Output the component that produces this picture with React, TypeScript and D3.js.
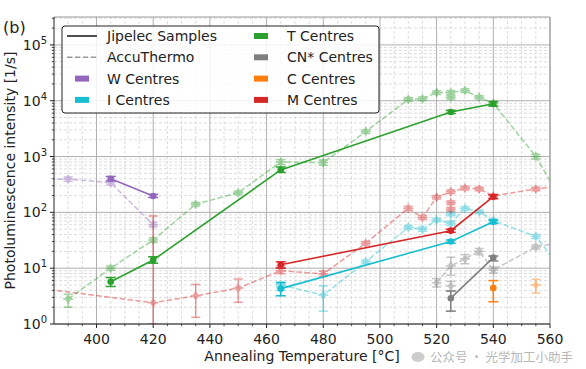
import React, { useEffect, useRef } from 'react';
import * as d3 from 'd3';

// [temperature, value, lower, upper]
type Pt = [number, number, number?, number?];

// Jipelec samples (solid)
const W_jip: Pt[] = [[405, 400, 365, 440], [420, 197, 185, 210]];
const T_jip: Pt[] = [[405, 5.7, 4.7, 6.8], [420, 14, 12.3, 16], [465, 575, 520, 650], [525, 6300, 5900, 6700], [540, 8800, 8000, 9600]];
const I_jip: Pt[] = [[465, 4.3, 3.2, 5.5], [525, 30, 28, 32], [540, 68, 63, 73]];
const M_jip: Pt[] = [[465, 11.5, 10, 13], [525, 47, 44, 50], [540, 191, 176, 206]];
const CN_jip: Pt[] = [[525, 2.9, 1.7, 3.9], [540, 15.5, 13.5, 16.5]];
const C_jip: Pt[] = [[540, 4.4, 2.5, 6.0]];

// AccuThermo samples (dashed)
const W_acc: Pt[] = [[375, 380], [390, 395, 360, 430], [405, 340, 310, 370], [420, 60, 55, 66]];
const T_acc: Pt[] = [[390, 2.8, 2.0, 3.4], [405, 10, 9.2, 11], [420, 32, 29, 35], [435, 140, 130, 150], [450, 225, 210, 240],
  [465, 800, 720, 880], [480, 780, 700, 860], [495, 2800, 2600, 3000], [510, 10600, 9800, 11400], [515, 10900, 10100, 11700],
  [520, 14000, 13000, 15000], [525, 14100, 13000, 15200], [530, 15200, 14100, 16300], [535, 11500, 10700, 12300],
  [540, 9000, 8300, 9700], [555, 1000, 900, 1100], [570, 50]];
const T_accExtra: Pt[] = [[525, 11500, 10700, 12300]];
const I_acc: Pt[] = [[465, 5.0, 4.4, 5.7], [480, 3.3, 1.7, 4.8], [495, 13, 12, 14], [510, 54, 50, 58], [515, 50, 46, 54],
  [520, 73, 68, 78], [525, 64, 59, 69], [530, 118, 110, 126], [535, 103, 96, 110], [540, 71, 66, 76], [555, 37, 34, 40], [570, 4]];
const I_accExtra: Pt[] = [[525, 94, 87, 101], [465, 4.6, 4.0, 5.2]];
const M_acc: Pt[] = [[375, 4.7], [420, 2.4, 1.0, 86], [435, 3.2, 1.32, 5.1], [450, 4.4, 2.45, 6.4], [465, 9.0, 8.0, 10.3],
  [480, 7.9, 7.1, 8.8], [495, 28, 26, 30], [510, 118, 108, 128], [515, 81, 75, 87], [520, 187, 174, 200], [525, 235, 218, 252],
  [530, 272, 252, 292], [535, 263, 244, 282], [540, 197, 183, 211], [555, 263, 244, 282], [570, 330]];
const M_accExtra: Pt[] = [[525, 149, 138, 160], [525, 114, 106, 122], [465, 10, 9, 11]];
const CN_acc: Pt[] = [[520, 5.5, 4.6, 6.5], [525, 11, 7.5, 15.7], [530, 14.8, 12, 17.5], [535, 20, 17.5, 22.5],
  [540, 9.3, 8.2, 10.5], [555, 24, 22, 26], [570, 33]];
const CN_accExtra: Pt[] = [[525, 4.8, 3.9, 5.8]];
const C_acc: Pt[] = [[555, 5.0, 3.6, 6.3]];

const xTicks = [400, 420, 440, 460, 480, 500, 520, 540, 560];
const yExps = [0, 1, 2, 3, 4, 5];

const colors = {
  W: '#9467bd', I: '#17becf', T: '#2ca02c', CN: '#7f7f7f', C: '#ff7f0e', M: '#d62728',
};

const legendLeft = [
  { kind: 'solid', label: 'Jipelec Samples' },
  { kind: 'dashed', label: 'AccuThermo' },
  { kind: 'W', label: 'W Centres' },
  { kind: 'I', label: 'I Centres' },
];
const legendRight = [
  { kind: 'T', label: 'T Centres' },
  { kind: 'CN', label: 'CN* Centres' },
  { kind: 'C', label: 'C Centres' },
  { kind: 'M', label: 'M Centres' },
];

export default function App() {
  const ref = useRef<SVGSVGElement>(null);

  useEffect(() => {
    const width = 586;
    const height = 369;
    const margin = { top: 17, right: 36, bottom: 45, left: 54 };
    const font = 'DejaVu Sans, sans-serif';

    const svg = d3.select(ref.current);
    svg.selectAll('*').remove();
    svg.attr('width', width).attr('height', height);

    const x = d3.scaleLinear().domain([385, 560]).range([margin.left, width - margin.right]);
    const y = d3.scaleLog().domain([1, Math.pow(10, 5.5)]).range([height - margin.bottom, margin.top]);
    const [x0, x1] = x.range();
    const [y0, y1] = y.range();

    svg.append('rect').attr('width', width).attr('height', height).attr('fill', 'white');

    svg.append('defs').append('clipPath').attr('id', 'plot-clip')
      .append('rect').attr('x', x0).attr('y', y1).attr('width', x1 - x0).attr('height', y0 - y1);

    const grid = svg.append('g');
    // minor grid
    const minorX = d3.range(390, 561, 5).filter(t => t % 20 !== 0);
    grid.selectAll('.mx').data(minorX).enter().append('line')
      .attr('x1', d => x(d)).attr('x2', d => x(d)).attr('y1', y0).attr('y2', y1)
      .attr('stroke', '#d4d4d4').attr('stroke-width', 0.8).attr('stroke-dasharray', '3,2');
    const minorY: number[] = [];
    for (let e = 0; e <= 5; e++) for (let m = 2; m <= 9; m++) {
      const v = m * Math.pow(10, e);
      if (v < Math.pow(10, 5.5)) minorY.push(v);
    }
    grid.selectAll('.my').data(minorY).enter().append('line')
      .attr('x1', x0).attr('x2', x1).attr('y1', d => y(d)).attr('y2', d => y(d))
      .attr('stroke', '#d4d4d4').attr('stroke-width', 0.8).attr('stroke-dasharray', '3,2');
    // major grid
    grid.selectAll('.Mx').data(xTicks).enter().append('line')
      .attr('x1', d => x(d)).attr('x2', d => x(d)).attr('y1', y0).attr('y2', y1)
      .attr('stroke', '#b0b0b0').attr('stroke-width', 1);
    grid.selectAll('.My').data(yExps).enter().append('line')
      .attr('x1', x0).attr('x2', x1).attr('y1', d => y(Math.pow(10, d))).attr('y2', d => y(Math.pow(10, d)))
      .attr('stroke', '#b0b0b0').attr('stroke-width', 1);

    const plot = svg.append('g').attr('clip-path', 'url(#plot-clip)');

    const line = d3.line<Pt>().x(d => x(d[0])).y(d => y(d[1]));

    const drawErr = (g: any, pts: Pt[], color: string, capW: number, sw: number) => {
      const withErr = pts.filter(p => p[2] !== undefined);
      withErr.forEach(p => {
        const cx = x(p[0]);
        const lo = y(Math.max(p[2] as number, 0.5));
        const hi = y(p[3] as number);
        g.append('line').attr('x1', cx).attr('x2', cx).attr('y1', lo).attr('y2', hi)
          .attr('stroke', color).attr('stroke-width', sw);
        [lo, hi].forEach(yy => g.append('line').attr('x1', cx - capW).attr('x2', cx + capW)
          .attr('y1', yy).attr('y2', yy).attr('stroke', color).attr('stroke-width', sw));
      });
    };

    const diamond = (cx: number, cy: number) => {
      const w = 3.2, h = 5;
      return `M${cx},${cy - h}L${cx + w},${cy}L${cx},${cy + h}L${cx - w},${cy}Z`;
    };

    const drawAcc = (pts: Pt[], extra: Pt[], color: string) => {
      const g = plot.append('g').attr('opacity', 0.45);
      g.append('path').datum(pts).attr('d', line).attr('fill', 'none')
        .attr('stroke', color).attr('stroke-width', 1.5).attr('stroke-dasharray', '5.5,2.4');
      const all = pts.concat(extra);
      drawErr(g, all, color, 4.5, 1.5);
      all.forEach(p => {
        const cx = x(p[0]), cy = y(p[1]);
        g.append('line').attr('x1', cx - 5).attr('x2', cx + 5).attr('y1', cy).attr('y2', cy)
          .attr('stroke', color).attr('stroke-width', 1.5);
        g.append('path').attr('d', diamond(cx, cy)).attr('fill', color);
      });
    };

    const drawJip = (pts: Pt[], color: string) => {
      const g = plot.append('g');
      g.append('path').datum(pts).attr('d', line).attr('fill', 'none')
        .attr('stroke', color).attr('stroke-width', 1.6);
      drawErr(g, pts, color, 5, 1.5);
      g.selectAll('circle').data(pts).enter().append('circle')
        .attr('cx', d => x(d[0])).attr('cy', d => y(d[1])).attr('r', 3.3).attr('fill', color);
    };

    drawAcc(W_acc, [], colors.W);
    drawAcc(T_acc, T_accExtra, colors.T);
    drawAcc(I_acc, I_accExtra, colors.I);
    drawAcc(M_acc, M_accExtra, colors.M);
    drawAcc(CN_acc, CN_accExtra, colors.CN);
    drawAcc(C_acc, [], colors.C);

    drawJip(W_jip, colors.W);
    drawJip(T_jip, colors.T);
    drawJip(I_jip, colors.I);
    drawJip(M_jip, colors.M);
    drawJip(CN_jip, colors.CN);
    drawJip(C_jip, colors.C);

    // spines
    svg.append('line').attr('x1', x0).attr('x2', x1).attr('y1', y1).attr('y2', y1).attr('stroke', '#999').attr('stroke-width', 1);
    svg.append('line').attr('x1', x1).attr('x2', x1).attr('y1', y0).attr('y2', y1).attr('stroke', '#999').attr('stroke-width', 1);
    svg.append('line').attr('x1', x0).attr('x2', x1).attr('y1', y0).attr('y2', y0).attr('stroke', '#222').attr('stroke-width', 1);
    svg.append('line').attr('x1', x0).attr('x2', x0).attr('y1', y0).attr('y2', y1).attr('stroke', '#222').attr('stroke-width', 1);

    // ticks
    const axisG = svg.append('g').attr('font-family', font).attr('fill', '#222');
    xTicks.forEach(t => {
      axisG.append('line').attr('x1', x(t)).attr('x2', x(t)).attr('y1', y0).attr('y2', y0 + 4).attr('stroke', '#222');
      axisG.append('text').attr('x', x(t)).attr('y', y0 + 20).attr('text-anchor', 'middle')
        .attr('font-size', 14).text(t);
    });
    minorX.forEach(t => {
      axisG.append('line').attr('x1', x(t)).attr('x2', x(t)).attr('y1', y0).attr('y2', y0 + 2.2).attr('stroke', '#222').attr('stroke-width', 0.8);
    });
    yExps.forEach(e => {
      const yy = y(Math.pow(10, e));
      axisG.append('line').attr('x1', x0 - 4).attr('x2', x0).attr('y1', yy).attr('y2', yy).attr('stroke', '#222');
      const tx = axisG.append('text').attr('x', x0 - 7).attr('y', yy + 5).attr('text-anchor', 'end').attr('font-size', 14);
      tx.append('tspan').text('10');
      tx.append('tspan').attr('dy', -6).attr('font-size', 10).text(e);
    });
    minorY.forEach(v => {
      axisG.append('line').attr('x1', x0 - 2.2).attr('x2', x0).attr('y1', y(v)).attr('y2', y(v)).attr('stroke', '#222').attr('stroke-width', 0.8);
    });

    axisG.append('text').attr('x', (x0 + x1) / 2).attr('y', 361).attr('text-anchor', 'middle')
      .attr('font-size', 14).text('Annealing Temperature [°C]');
    axisG.append('text').attr('transform', `translate(15,${(y0 + y1) / 2}) rotate(-90)`)
      .attr('text-anchor', 'middle').attr('font-size', 14).text('Photoluminescence intensity [1/s]');
    axisG.append('text').attr('x', 3).attr('y', 33).attr('font-size', 16).text('(b)');

    // legend
    const lg = svg.append('g').attr('font-family', font).attr('font-size', 14);
    lg.append('rect').attr('x', 62).attr('y', 26).attr('width', 317).attr('height', 87).attr('rx', 3)
      .attr('fill', 'white').attr('fill-opacity', 0.85).attr('stroke', '#222').attr('stroke-width', 1);
    const rowY = (i: number) => 36 + i * 21.3;
    const handle = (kind: string, hx: number, cy: number) => {
      if (kind === 'solid') {
        lg.append('line').attr('x1', hx).attr('x2', hx + 30).attr('y1', cy).attr('y2', cy).attr('stroke', '#222').attr('stroke-width', 1.6);
      } else if (kind === 'dashed') {
        lg.append('line').attr('x1', hx).attr('x2', hx + 30).attr('y1', cy).attr('y2', cy).attr('stroke', '#999')
          .attr('stroke-width', 1.5).attr('stroke-dasharray', '5.5,2.4');
      } else {
        lg.append('rect').attr('x', hx + 8).attr('y', cy - 3).attr('width', 14).attr('height', 6)
          .attr('fill', (colors as any)[kind]);
      }
    };
    legendLeft.forEach((d, i) => {
      handle(d.kind, 67, rowY(i));
      lg.append('text').attr('x', 107).attr('y', rowY(i) + 5).attr('fill', '#222').text(d.label);
    });
    legendRight.forEach((d, i) => {
      handle(d.kind, 246, rowY(i));
      lg.append('text').attr('x', 287).attr('y', rowY(i) + 5).attr('fill', '#222').text(d.label);
    });

    // watermark (moved below the tick labels so it does not cover them)
    svg.append('ellipse').attr('cx', 418).attr('cy', 357).attr('rx', 6.5).attr('ry', 5)
      .attr('fill', '#999').attr('opacity', 0.5);
    svg.append('text').attr('x', 430).attr('y', 362).attr('font-family', 'Noto Sans CJK SC, sans-serif')
      .attr('font-size', 12.5).attr('fill', '#999').attr('opacity', 0.7).text('公众号 · 光学加工小助手');
  }, []);

  return (
    <div style={{ position: 'absolute', left: 0, top: 0 }}>
      <svg ref={ref} />
    </div>
  );
}
